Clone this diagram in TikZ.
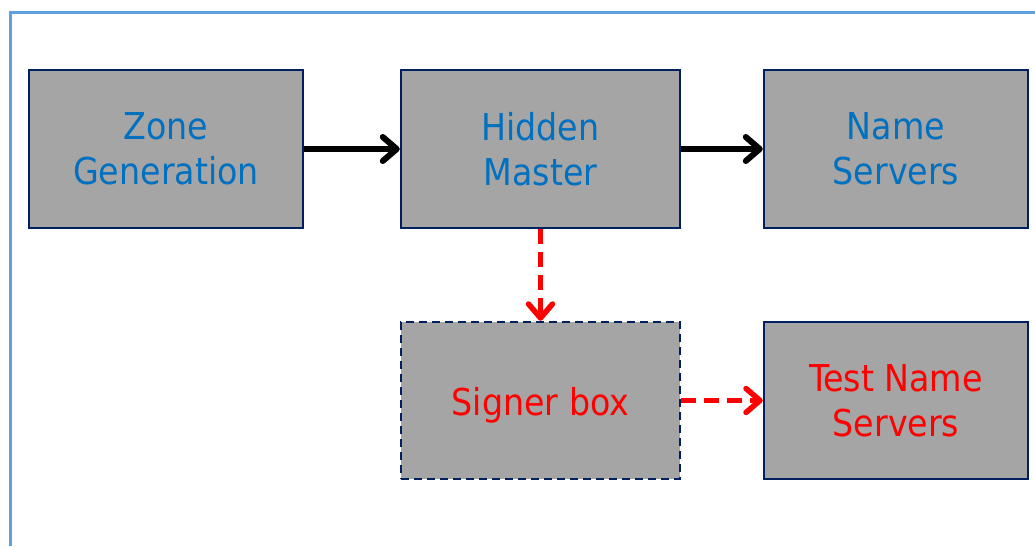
\documentclass[tikz,border=0pt]{standalone}
\usepackage{fontspec}
\setmainfont{DejaVu Sans Condensed}
\usetikzlibrary{arrows.meta}
\definecolor{framecol}{RGB}{95,160,225}
\definecolor{boxfill}{RGB}{165,165,165}
\definecolor{boxline}{RGB}{0,32,96}
\definecolor{bluetext}{RGB}{0,112,192}
\definecolor{redtext}{RGB}{255,0,0}
\tikzset{
  stagebox/.style={rectangle, draw=boxline, fill=boxfill, line width=2.5pt,
    minimum height=158pt, align=center, inner sep=0pt,
    font=\fontsize{37}{45}\selectfont},
  mainflow/.style={draw=black, line width=6pt,
    -{Straight Barb[length=14pt,width=24pt,round]}},
  testflow/.style={draw=redtext, line width=5.5pt, dash pattern=on 15pt off 8pt,
    -{Straight Barb[length=14pt,width=24pt,round]}},
}
\begin{document}
\begin{tikzpicture}[x=1pt,y=-1pt]
  \useasboundingbox (0,0) rectangle (1035,546);
  % outer frame, open towards the right and bottom edges
  \draw[framecol, line width=3pt] (10,546) -- (10,12) -- (1035,12);

  % production chain
  \node[stagebox, minimum width=274pt, text=bluetext] (zone) at (166,149) {Zone\\Generation};
  \node[stagebox, minimum width=279pt, text=bluetext] (hidden) at (540.5,149) {Hidden\\Master};
  \node[stagebox, minimum width=264pt, text=bluetext] (ns) at (896,149) {Name\\Servers};

  % test chain
  \node[stagebox, minimum width=279pt, minimum height=157pt, text=redtext,
        text height=29pt, text depth=0pt,
        dash pattern=on 8pt off 5pt] (signer) at (540.5,400.5) {Signer box};
  \node[stagebox, minimum width=264pt, minimum height=157pt, text=redtext] (testns) at (896,400.5) {Test Name\\Servers};

  % connectors
  \draw[mainflow] (zone.east) -- (hidden.west);
  \draw[mainflow] (hidden.east) -- (ns.west);
  \draw[testflow] (hidden.south) -- (signer.north);
  \draw[testflow] (signer.east) -- (testns.west);
\end{tikzpicture}
\end{document}
